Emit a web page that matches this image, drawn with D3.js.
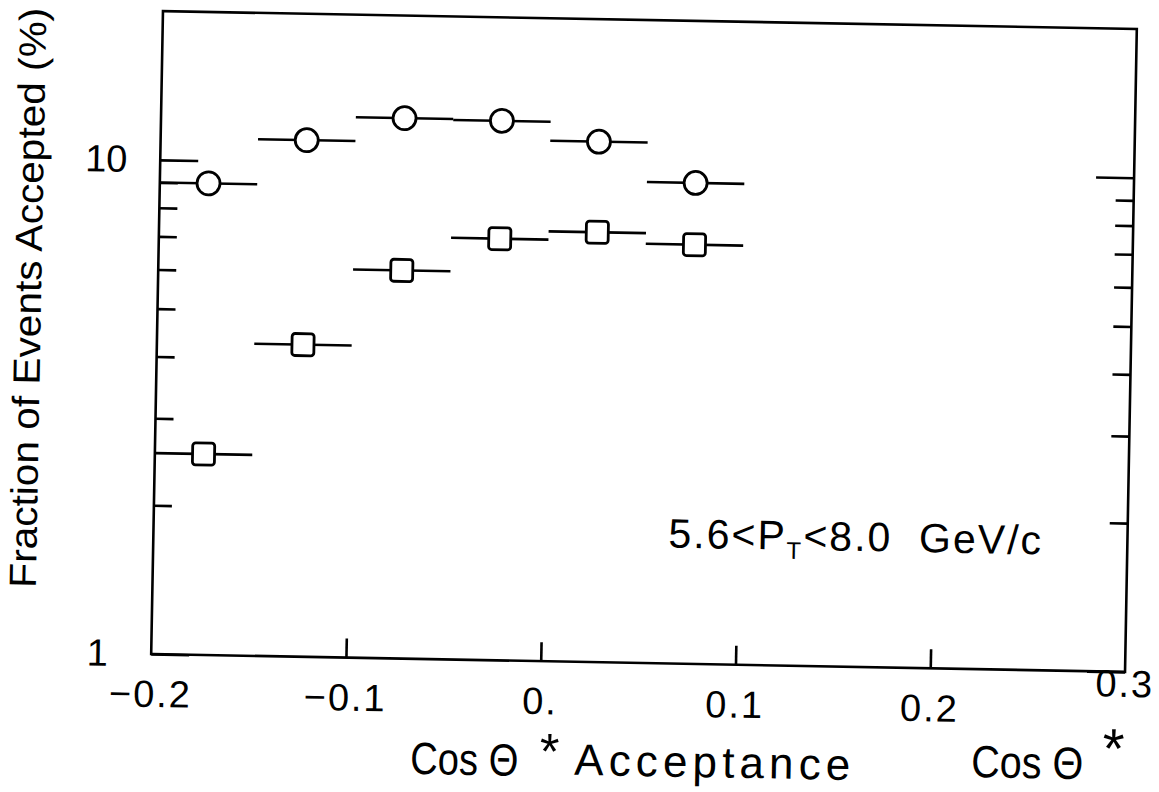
<!DOCTYPE html>
<html>
<head>
<meta charset="utf-8">
<script src="https://cdn.jsdelivr.net/npm/d3@7"></script>
<style>
  body { margin: 0; background: #fff; }
  text { font-family: "Liberation Sans", Arial, sans-serif; fill: #000; }
</style>
</head>
<body>
<div id="chart"></div>
<script>
// bins in cos theta*, each 0.05 wide
const binCenters = [-0.175, -0.125, -0.075, -0.025, 0.025, 0.075];
const binHalfWidth = 0.025;
const circleValues = [9.0, 11.1, 12.4, 12.35, 11.3, 9.4];
const squareValues = [2.55, 4.28, 6.1, 7.13, 7.41, 7.05];

const yMajor = [1, 10];
const yMinor = [2, 3, 4, 5, 6, 7, 8, 9];
const xTicks = [-0.1, 0, 0.1, 0.2];
const xLabelValues = [-0.2, -0.1, 0, 0.1, 0.2, 0.3];
const xLabelTexts = ["\u22120.2", "\u22120.1", "0.", "0.1", "0.2", "0.3"];

const W = 1159, H = 792;
const m = {left: 157, top: 20, right: 1131, bottom: 663};

const x = d3.scaleLinear().domain([-0.2, 0.3]).range([m.left, m.right]);
const y = d3.scaleLog().domain([1, 20]).range([m.bottom, m.top]);

const svg = d3.select('#chart').append('svg')
    .attr('width', W)
    .attr('height', H);

// the scan is tilted a little, so is the whole drawing
const g = svg.append('g')
    .attr('transform', 'rotate(1.05, 644.5, 341.25)');

g.append('rect')
    .attr('x', m.left).attr('y', m.top)
    .attr('width', m.right - m.left).attr('height', m.bottom - m.top)
    .attr('fill', 'none').attr('stroke', '#000').attr('stroke-width', 2.6);

function ticks(sel) {
    sel.select('.domain').remove();
    sel.selectAll('.tick line').attr('stroke', '#000').attr('stroke-width', 2.6);
}

// left axis
g.append('g').attr('transform', `translate(${m.left},0)`)
    .call(d3.axisLeft(y).tickValues(yMajor).tickSizeInner(-38).tickSizeOuter(0)
        .tickPadding(0).tickFormat(d3.format('d')))
    .call(ticks)
    .call(s => s.selectAll('text')
        .attr('x', -54).attr('text-anchor', 'middle')
        .attr('font-size', 38).attr('font-family', '"Liberation Sans", Arial, sans-serif'));
g.append('g').attr('transform', `translate(${m.left},0)`)
    .call(d3.axisLeft(y).tickValues(yMinor).tickSizeInner(-18).tickSizeOuter(0).tickFormat(''))
    .call(ticks);

// right axis
g.append('g').attr('transform', `translate(${m.right},0)`)
    .call(d3.axisRight(y).tickValues(yMajor).tickSizeInner(-38).tickSizeOuter(0).tickFormat(''))
    .call(ticks);
g.append('g').attr('transform', `translate(${m.right},0)`)
    .call(d3.axisRight(y).tickValues(yMinor).tickSizeInner(-18).tickSizeOuter(0).tickFormat(''))
    .call(ticks);

// bottom axis
g.append('g').attr('transform', `translate(0,${m.bottom})`)
    .call(d3.axisBottom(x).tickValues(xTicks).tickSizeInner(-19).tickSizeOuter(0).tickFormat(''))
    .call(ticks);

g.selectAll('.xlab').data(xLabelValues).join('text')
    .attr('class', 'xlab')
    .attr('x', d => x(d))
    .attr('y', (d, i) => m.bottom + (i === xLabelValues.length - 1 ? 25 : 53))
    .attr('text-anchor', 'middle')
    .attr('font-size', 38)
    .attr('letter-spacing', 2)
    .text((d, i) => xLabelTexts[i]);

// error bars + markers
function series(values, shape) {
    const s = g.append('g');
    s.selectAll('line').data(values).join('line')
        .attr('x1', (d, i) => x(binCenters[i] - binHalfWidth))
        .attr('x2', (d, i) => x(binCenters[i] + binHalfWidth))
        .attr('y1', d => y(d)).attr('y2', d => y(d))
        .attr('stroke', '#000').attr('stroke-width', 2.6);
    if (shape === 'circle') {
        s.selectAll('circle').data(values).join('circle')
            .attr('cx', (d, i) => x(binCenters[i]))
            .attr('cy', d => y(d))
            .attr('r', 11.5)
            .attr('fill', '#fff').attr('stroke', '#000').attr('stroke-width', 2.8);
    } else {
        s.selectAll('rect').data(values).join('rect')
            .attr('x', (d, i) => x(binCenters[i]) - 11)
            .attr('y', d => y(d) - 11)
            .attr('width', 22).attr('height', 22).attr('rx', 3)
            .attr('fill', '#fff').attr('stroke', '#000').attr('stroke-width', 2.8);
    }
}
series(circleValues, 'circle');
series(squareValues, 'square');

// annotation
const ann = g.append('text')
    .attr('x', 672).attr('y', 547)
    .attr('font-size', 41).attr('letter-spacing', 2);
ann.append('tspan').text('5.6<P');
ann.append('tspan').attr('font-size', 24).attr('dy', 9).text('T');
ann.append('tspan').attr('dy', -9).text('<8.0\u00a0 GeV/c');

// y title
g.append('text')
    .attr('transform', 'translate(27,309) rotate(-90)')
    .attr('text-anchor', 'middle')
    .attr('dy', '0.35em')
    .attr('font-size', 38)
    .attr('textLength', 580)
    .attr('lengthAdjust', 'spacingAndGlyphs')
    .text('Fraction of Events Accepted (%)');

// x titles
g.append('text').attr('x', 418).attr('y', 778).attr('font-size', 45)
    .attr('textLength', 108).attr('lengthAdjust', 'spacingAndGlyphs').text('Cos \u0398');
g.append('text').attr('x', 557).attr('y', 770).attr('text-anchor', 'middle')
    .attr('font-size', 50).text('*');
g.append('text').attr('x', 582).attr('y', 776).attr('font-size', 44)
    .attr('textLength', 276).attr('lengthAdjust', 'spacing').text('Acceptance');

g.append('text').attr('x', 979).attr('y', 771).attr('font-size', 45)
    .attr('textLength', 112).attr('lengthAdjust', 'spacingAndGlyphs').text('Cos \u0398');
g.append('text').attr('x', 1121).attr('y', 759).attr('text-anchor', 'middle')
    .attr('font-size', 56).text('*');
</script>
</body>
</html>
